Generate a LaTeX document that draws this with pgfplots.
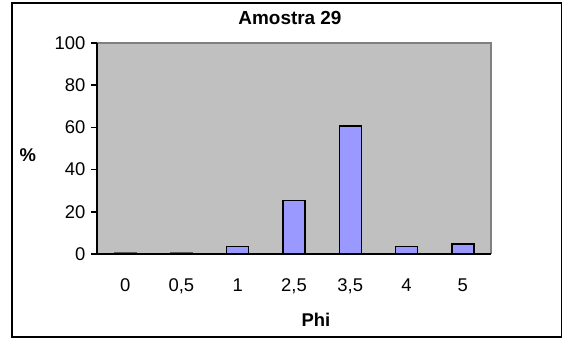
\documentclass[border=0pt]{standalone}
\usepackage{pgfplots}
\pgfplotsset{compat=1.18}
\usepackage{fontspec}
\setmainfont{Liberation Sans}
\definecolor{plotbg}{HTML}{C0C0C0}
\definecolor{barfill}{HTML}{9999FF}
\definecolor{edgegray}{HTML}{808080}
\begin{document}
\begin{tikzpicture}
\useasboundingbox (-97bp,-85bp) rectangle (465bp,254bp);
\begin{axis}[
  at={(0,0)}, anchor=south west,
  scale only axis, width=394bp, height=211bp,
  xmin=-0.5, xmax=6.5, ymin=0, ymax=100,
  axis line style={draw=none},
  axis background/.style={fill=plotbg},
  /pgf/number format/assume math mode=true,
  ticklabel style={font=\fontsize{18.5}{18.5}\selectfont},
  xtick={0,...,6},
  xticklabels={0,{0,5},1,{2,5},{3,5},4,5},
  xtick style={draw=none},
  xticklabel style={yshift=-15bp},
  extra x ticks={-0.5,0.5,...,6.5},
  extra x tick labels={},
  extra x tick style={tick style={draw=black, line width=1.5bp}, major tick length=6bp, tick align=outside, xtick pos=bottom},
  ytick={0,20,...,100},
  ytick pos=left,
  tick align=outside,
  major tick length=6bp,
  ytick style={draw=black, line width=1.5bp},
  yticklabel style={xshift=-2bp},
  clip=false,
]
\addplot[ybar, bar width=22bp, bar shift=0pt, fill=barfill, draw=edgegray!70!black, line width=1.2bp]
  coordinates {(0,0.5) (1,0.5)};
\addplot[ybar, bar width=22bp, bar shift=0pt, fill=barfill, draw=black, line width=1.5bp]
  coordinates {(2,3.6) (3,25.4) (4,60.6) (5,3.6) (6,4.7)};
\draw[edgegray, line width=1.5bp] (rel axis cs:0,1) -- (rel axis cs:1,1) -- (rel axis cs:1,0);
\draw[black, line width=1.5bp] (rel axis cs:0,1) -- (rel axis cs:0,0) -- (rel axis cs:1,0);
\end{axis}
\draw[black, line width=2bp] (-85bp,-83bp) rectangle (465bp,251bp);
\node[anchor=base, font=\bfseries\fontsize{19}{19}\selectfont, inner sep=0pt] at (193bp,229bp) {Amostra 29};
\node[anchor=base, font=\bfseries\fontsize{18.5}{18.5}\selectfont, inner sep=0pt] at (219bp,-72.7bp) {Phi};
\node[anchor=base, font=\bfseries\fontsize{18.5}{18.5}\selectfont, inner sep=0pt] at (-69.3bp,92bp) {\%};
\end{tikzpicture}
\end{document}
